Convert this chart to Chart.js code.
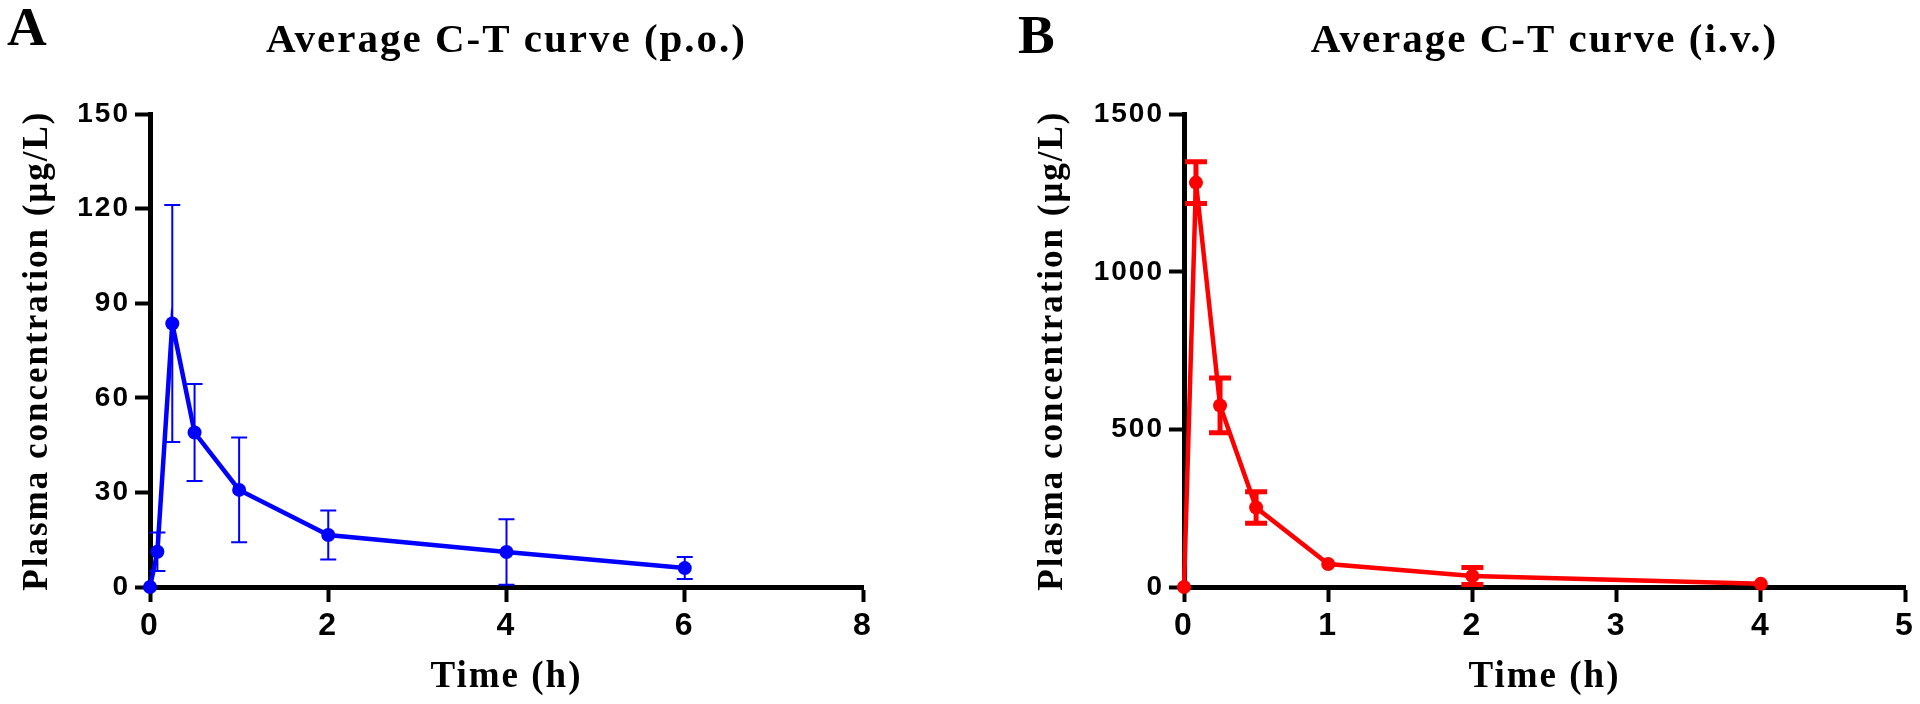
<!DOCTYPE html>
<html>
<head>
<meta charset="utf-8">
<script src="https://cdn.jsdelivr.net/npm/chart.js@4.4.1/dist/chart.umd.min.js"></script>
<style>
  body { margin: 0; background: #fff; }
  .panel { position: absolute; top: 0; }
</style>
</head>
<body>
<canvas id="poCanvas" class="panel" width="960" height="704" style="left:0"></canvas>
<canvas id="ivCanvas" class="panel" width="960" height="704" style="left:960px"></canvas>
<script>
// p.o. group (mean +- SD)
var poTime = [0, 0.083, 0.25, 0.5, 1, 2, 4, 6];
var poMean = [0, 11.2, 83.6, 49.0, 30.8, 16.5, 11.1, 6.0];
var poSd   = [0, 6.1, 37.6, 15.4, 16.6, 7.8, 10.4, 3.5];
var poYTicks = [0, 30, 60, 90, 120, 150];
var poXTicks = [0, 2, 4, 6, 8];

// i.v. group (mean +- SD)
var ivTime = [0, 0.083, 0.25, 0.5, 1, 2, 4];
var ivMean = [0, 1283, 576, 252, 73, 35, 10];
var ivSd   = [0, 66, 87, 50, 12, 27, 6];
var ivYTicks = [0, 500, 1000, 1500];
var ivXTicks = [0, 1, 2, 3, 4, 5];

var serif = "'Liberation Serif', 'Times New Roman', serif";
var sans = "'Liberation Sans', Arial, sans-serif";

// slightly spaced lettering like the original figure
var spacing = {
    id: 'spacing',
    beforeDraw: function (chart) { chart.ctx.letterSpacing = '2px'; },
    afterDraw: function (chart) { chart.ctx.letterSpacing = '0px'; }
};

// panel letter (A / B)
var panelTag = {
    id: 'panelTag',
    afterDraw: function (chart, args, opts) {
        var ctx = chart.ctx;
        ctx.save();
        ctx.font = 'bold 55px ' + serif;
        ctx.fillStyle = '#000';
        ctx.textBaseline = 'alphabetic';
        ctx.fillText(opts.text, opts.x, opts.y);
        ctx.restore();
    }
};

// mean +- SD bars, hidden when shorter than the marker (like Prism)
var errorBars = {
    id: 'errorBars',
    afterDatasetsDraw: function (chart, args, opts) {
        var ctx = chart.ctx;
        var xs = chart.scales.x, ys = chart.scales.y;
        var pts = chart.data.datasets[0].data;
        ctx.save();
        ctx.strokeStyle = opts.color;
        ctx.lineWidth = opts.width;
        for (var i = 0; i < pts.length; i++) {
            var sd = opts.sd[i];
            var px = xs.getPixelForValue(pts[i].x);
            var top = ys.getPixelForValue(pts[i].y + sd);
            var bot = ys.getPixelForValue(Math.max(pts[i].y - sd, 0));
            if ((bot - top) / 2 <= opts.hide) continue;
            ctx.beginPath();
            ctx.moveTo(px, top); ctx.lineTo(px, bot);
            ctx.moveTo(px - opts.cap, top); ctx.lineTo(px + opts.cap, top);
            ctx.moveTo(px - opts.cap, bot); ctx.lineTo(px + opts.cap, bot);
            ctx.stroke();
        }
        ctx.restore();
    }
};

function makePoints(t, v) {
    var out = [];
    for (var i = 0; i < t.length; i++) out.push({ x: t[i], y: v[i] });
    return out;
}

function tickList(vals) {
    return function (scale) {
        scale.ticks = vals.map(function (v) { return { value: v }; });
    };
}

function plain(v) { return String(v); }

function makeChart(id, cfg) {
    var axisGrid = {
        display: true,
        drawOnChartArea: false,
        drawTicks: true,
        tickLength: 15,
        tickWidth: 4,
        tickColor: '#000'
    };
    return new Chart(document.getElementById(id), {
        type: 'scatter',
        data: {
            datasets: [{
                data: makePoints(cfg.time, cfg.mean),
                showLine: true,
                borderColor: cfg.color,
                backgroundColor: cfg.color,
                borderWidth: 4.5,
                pointRadius: 7,
                pointBorderWidth: 0,
                tension: 0,
                clip: false
            }]
        },
        options: {
            responsive: false,
            animation: false,
            events: [],
            layout: { padding: { left: 0, top: 0, bottom: 0, right: cfg.padRight } },
            scales: {
                x: {
                    type: 'linear',
                    min: cfg.xTicks[0],
                    max: cfg.xTicks[cfg.xTicks.length - 1],
                    afterBuildTicks: tickList(cfg.xTicks),
                    afterFit: function (s) { s.height = 117; },
                    grid: axisGrid,
                    border: { display: true, color: '#000', width: 5 },
                    ticks: { color: '#000', padding: 5, callback: plain, font: { family: sans, size: 32, weight: 'bold' } },
                    title: {
                        display: true,
                        text: 'Time (h)',
                        color: '#000',
                        padding: { top: 0, bottom: 4 },
                        font: { family: serif, size: 37, weight: 'bold' }
                    }
                },
                y: {
                    type: 'linear',
                    min: 0,
                    max: cfg.yTicks[cfg.yTicks.length - 1],
                    afterBuildTicks: tickList(cfg.yTicks),
                    afterFit: function (s) { s.width = cfg.yWidth; },
                    grid: axisGrid,
                    border: { display: true, color: '#000', width: 5 },
                    ticks: { color: '#000', padding: 5, callback: plain, font: { family: sans, size: 28, weight: 'bold' } },
                    title: {
                        display: true,
                        text: 'Plasma concentration (μg/L)',
                        color: '#000',
                        padding: { top: cfg.yTitlePad, bottom: 0 },
                        font: { family: serif, size: 35, weight: 'bold' }
                    }
                }
            },
            plugins: {
                legend: { display: false },
                tooltip: { enabled: false },
                title: {
                    display: true,
                    fullSize: false,
                    text: cfg.title,
                    color: '#000',
                    padding: { top: 17, bottom: 48 },
                    font: { family: serif, size: 41, weight: 'bold' }
                },
                panelTag: cfg.tag,
                errorBars: cfg.bars
            }
        },
        plugins: [spacing, errorBars, panelTag]
    });
}

makeChart('poCanvas', {
    time: poTime, mean: poMean, color: '#0000ff',
    xTicks: poXTicks, yTicks: poYTicks,
    padRight: 97, yWidth: 150, yTitlePad: 17,
    title: 'Average C-T curve (p.o.)',
    tag: { text: 'A', x: 7, y: 45 },
    bars: { sd: poSd, color: '#0000ff', width: 2, cap: 8, hide: 7 }
});

makeChart('ivCanvas', {
    time: ivTime, mean: ivMean, color: '#ff0000',
    xTicks: ivXTicks, yTicks: ivYTicks,
    padRight: 15, yWidth: 224, yTitlePad: 72,
    title: 'Average C-T curve (i.v.)',
    tag: { text: 'B', x: 58, y: 53 },
    bars: { sd: ivSd, color: '#ff0000', width: 5, cap: 11, hide: 7 }
});
</script>
</body>
</html>
